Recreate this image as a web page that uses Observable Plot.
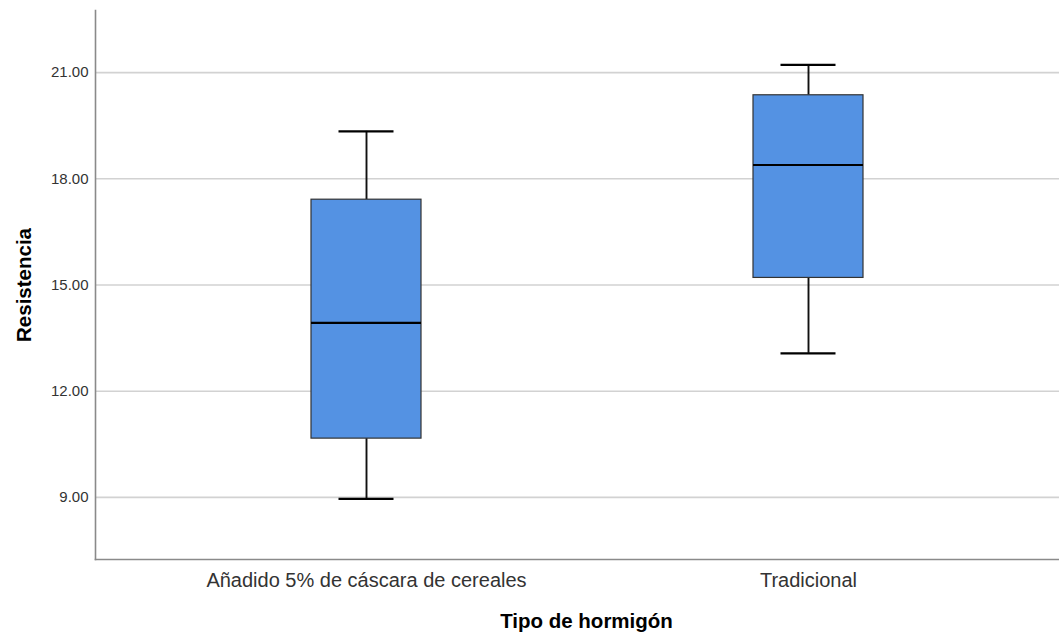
<!DOCTYPE html>
<html>
<head>
<meta charset="utf-8">
<script src="https://cdn.jsdelivr.net/npm/d3@7"></script>
<script src="https://cdn.jsdelivr.net/npm/@observablehq/plot@0.6"></script>
<style>
  html, body { margin: 0; padding: 0; background: #fff; }
  svg { display: block; }
</style>
</head>
<body>
<script>
// Five-number summaries of compressive strength by concrete type
const categories = ["Añadido 5% de cáscara de cereales", "Tradicional"];
const minimo  = [8.96, 13.07];
const q1      = [10.66, 15.20];
const mediana = [13.93, 18.39];
const q3      = [17.41, 20.36];
const maximo  = [19.34, 21.22];
const yTicks  = [9, 12, 15, 18, 21];
const yDomain = [7.245, 22.755];

const rows = categories.map((tipo, i) => ({
  tipo, min: minimo[i], q1: q1[i], med: mediana[i], q3: q3[i], max: maximo[i]
}));

const font = "'Liberation Sans', Arial, Helvetica, sans-serif";

const chart = Plot.plot({
  width: 1059,
  height: 634,
  marginLeft: 95,
  marginRight: 0,
  marginTop: 10,
  marginBottom: 75,
  style: { fontFamily: font, background: "#fff", overflow: "visible" },
  x: {
    type: "band",
    domain: categories,
    paddingInner: 0.751,
    paddingOuter: 0,
    insetLeft: 215.7,
    insetRight: 195.3,
    axis: null
  },
  y: { domain: yDomain, axis: null },
  marks: [
    Plot.gridY(yTicks, { stroke: "#d2d2d2", strokeOpacity: 1, strokeWidth: 1.6 }),
    Plot.frame({ anchor: "left", stroke: "#8a8a8a", strokeWidth: 1.6 }),
    Plot.frame({ anchor: "bottom", stroke: "#8a8a8a", strokeWidth: 1.6 }),
    Plot.axisY(yTicks, {
      tickSize: 0, tickPadding: 7, tickFormat: d3.format(".2f"),
      fontSize: 15, fill: "#333", label: null
    }),
    Plot.axisX({ tickSize: 0, tickPadding: 13, fontSize: 20, fill: "#333", label: null }),
    // whiskers
    Plot.ruleX(rows, { x: "tipo", y1: "min", y2: "q1", stroke: "#111", strokeWidth: 1.9 }),
    Plot.ruleX(rows, { x: "tipo", y1: "q3", y2: "max", stroke: "#111", strokeWidth: 1.9 }),
    // interquartile box
    Plot.barY(rows, { x: "tipo", y1: "q1", y2: "q3", fill: "#5492e3", stroke: "#333", strokeWidth: 1.2 }),
    // median
    Plot.tickY(rows, { x: "tipo", y: "med", stroke: "#000", strokeWidth: 2.2 }),
    // whisker caps
    Plot.tickY(rows, { x: "tipo", y: "min", stroke: "#000", strokeWidth: 2.2, insetLeft: 27.5, insetRight: 27.5 }),
    Plot.tickY(rows, { x: "tipo", y: "max", stroke: "#000", strokeWidth: 2.2, insetLeft: 27.5, insetRight: 27.5 }),
    // axis titles
    Plot.text(["Tipo de hormigón"], {
      frameAnchor: "bottom", lineAnchor: "top", dy: 54, dx: 9,
      fontSize: 20.5, fontWeight: "bold", fill: "#000"
    }),
    Plot.text(["Resistencia"], {
      frameAnchor: "left", rotate: -90, lineAnchor: "top", textAnchor: "middle", dx: -79,
      fontSize: 20.5, fontWeight: "bold", fill: "#000"
    })
  ]
});

document.body.appendChild(chart);
</script>
</body>
</html>
